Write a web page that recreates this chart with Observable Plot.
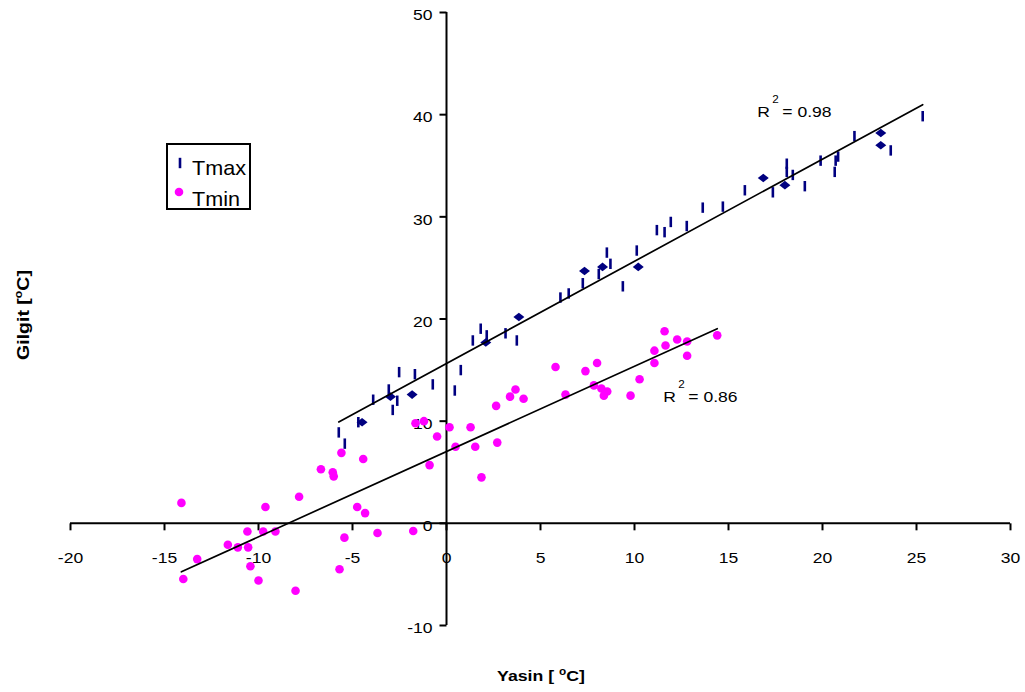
<!DOCTYPE html>
<html>
<head>
<meta charset="utf-8">
<script src="https://cdn.jsdelivr.net/npm/d3@7"></script>
<script src="https://cdn.jsdelivr.net/npm/@observablehq/plot@0.6"></script>
<style>
  html, body { margin: 0; padding: 0; background: #fff; }
  #wrap { position: relative; width: 1025px; height: 692px; font-family: "Liberation Sans", Arial, sans-serif; }
  #wrap svg.plot { position: absolute; left: 0; top: 0; }
  .atitle { position: absolute; font-weight: bold; font-size: 15px; white-space: nowrap; color: #000; }
  .atitle sup { font-size: 10px; }
  #legend { position: absolute; left: 166px; top: 143px; }
</style>
</head>
<body>
<div id="wrap"></div>
<script>
// ---- data ----
const xTicks = [-20, -15, -10, -5, 0, 5, 10, 15, 20, 25, 30];
const yTicks = [-10, 0, 10, 20, 30, 40, 50];

// Tmax points drawn as dash markers (Yasin x, Gilgit y)
const tmaxDashX = [-5.73,-5.41,-4.69,-3.9,-3.07,-2.86,-2.62,-2.52,-1.68,-0.73,0.44,0.76,1.4,1.82,2.14,3.14,3.74,6.06,6.5,7.25,8.1,8.53,8.72,9.38,10.12,11.19,11.6,11.93,12.78,13.63,14.7,15.87,17.36,18.1,18.1,18.42,19.06,19.9,20.65,20.7,20.83,21.7,23.63,25.33];
const tmaxDashY = [8.9,7.8,9.9,12.1,13.1,11.1,12.0,14.8,14.6,13.6,13.0,15.0,17.9,19.05,18.4,18.6,17.9,22.1,22.5,23.5,24.4,26.5,25.4,23.2,26.7,28.7,28.5,29.5,29.1,30.9,31.0,32.6,32.4,35.2,34.4,34.1,33.0,35.5,34.4,35.5,35.9,37.9,36.5,39.85];
// Tmax points that appear as diamonds
const tmaxDiaX = [-4.49,-2.98,-1.83,2.09,3.85,7.34,8.3,10.2,16.85,18.0,23.1,23.1];
const tmaxDiaY = [9.9,12.4,12.6,17.7,20.2,24.7,25.1,25.1,33.8,33.1,38.2,37.0];
// Tmin points
const tminX = [-14.1,-13.26,-14.0,-11.63,-11.1,-10.59,-10.55,-10.43,-10.0,-9.75,-9.63,-9.1,-7.84,-8.03,-6.68,-6.05,-6.0,-5.69,-5.43,-5.59,-4.75,-4.43,-4.33,-3.67,-1.77,-1.65,-1.2,-0.9,-0.5,0.16,0.48,1.28,1.53,1.86,2.64,2.7,3.38,3.67,4.1,5.8,6.33,7.39,7.84,8.01,8.24,8.37,8.55,9.79,10.27,11.06,11.06,11.6,11.65,12.27,12.8,12.8,14.4];
const tminY = [2.0,-3.5,-5.45,-2.1,-2.35,-0.8,-2.35,-4.2,-5.6,-0.8,1.6,-0.8,2.6,-6.6,5.3,5.0,4.6,-4.5,-1.4,6.9,1.6,6.3,1.0,-0.95,-0.75,9.8,10.0,5.7,8.5,9.4,7.5,9.4,7.5,4.5,11.5,7.9,12.4,13.1,12.2,15.3,12.6,14.9,13.5,15.7,13.2,12.5,12.9,12.5,14.1,16.9,15.7,18.8,17.4,18.0,17.8,16.4,18.4];

// Linear trendlines
const trendNames = ["Tmax", "Tmin"];
const trendSlope = [1.0, 0.835];
const trendIntercept = [15.65, 7.03];
const trendR2 = ["0.98", "0.86"];
const r2LabelX = [16.53, 11.53];
const r2LabelY = [39.75, 11.87];

// ---- build tables ----
const dash = tmaxDashX.map((x, i) => ({x, y: tmaxDashY[i]}));
const dia = tmaxDiaX.map((x, i) => ({x, y: tmaxDiaY[i]}));
const tmin = tminX.map((x, i) => ({x, y: tminY[i]}));
const tmaxExt = d3.extent([...tmaxDashX, ...tmaxDiaX]);
const tminExt = d3.extent(tminX);
const exts = [tmaxExt, tminExt];
const trendPts = [];
trendNames.forEach((n, i) => exts[i].forEach(x => trendPts.push({series: n, x, y: trendIntercept[i] + trendSlope[i] * x})));
const r2 = trendNames.map((n, i) => ({x: r2LabelX[i], y: r2LabelY[i], v: trendR2[i]}));

// ---- symbols ----
const barSym = {draw(ctx) { ctx.rect(-1.3, -5.2, 2.6, 10.4); }};
const diamondSym = {draw(ctx) { ctx.moveTo(-5.5, 0); ctx.lineTo(0, -4.3); ctx.lineTo(5.5, 0); ctx.lineTo(0, 4.3); ctx.closePath(); }};
const yTickSym = {draw(ctx) { ctx.rect(-7, -1, 7, 2); }};
const xTickSym = {draw(ctx) { ctx.rect(-1, 0, 2, 7); }};

const NAVY = "#000080", MAG = "#ff00ff";
const font = "Liberation Sans, Arial, sans-serif";

const chart = Plot.plot({
  width: 1025, height: 692,
  marginLeft: 70, marginRight: 15, marginTop: 12, marginBottom: 67,
  x: {domain: [-20, 30], axis: null},
  y: {domain: [-10, 50], axis: null},
  style: {fontFamily: font, background: "transparent", color: "#000", overflow: "visible"},
  marks: [
    // axes crossing at origin
    Plot.ruleY([0], {x1: xTicks[0], x2: xTicks[xTicks.length - 1], stroke: "#000", strokeWidth: 2}),
    Plot.ruleX([0], {y1: yTicks[0], y2: yTicks[yTicks.length - 1], stroke: "#000", strokeWidth: 2}),
    Plot.dot(yTicks, {x: 0, y: d => d, symbol: yTickSym, fill: "#000", stroke: "none"}),
    Plot.dot(xTicks, {x: d => d, y: 0, symbol: xTickSym, fill: "#000", stroke: "none"}),
    Plot.text(yTicks, {x: 0, y: d => d, text: d => String(d), textAnchor: "end", dx: -14, dy: 3, fontSize: 15, fill: "#000"}),
    Plot.text(xTicks, {x: d => d, y: 0, text: d => String(d), textAnchor: "middle", dy: 35, fontSize: 15, fill: "#000"}),
    // data
    Plot.dot(tmin, {x: "x", y: "y", r: 4.3, fill: MAG, stroke: "none"}),
    Plot.dot(dash, {x: "x", y: "y", symbol: barSym, fill: NAVY, stroke: "none"}),
    Plot.dot(dia, {x: "x", y: "y", symbol: diamondSym, fill: NAVY, stroke: "none"}),
    // trendlines
    Plot.line(trendPts, {x: "x", y: "y", z: "series", stroke: "#000", strokeWidth: 1.7}),
    // R² labels
    Plot.text(r2, {x: "x", y: "y", text: () => "R", textAnchor: "start", lineAnchor: "bottom", fontSize: 15, fill: "#000"}),
    Plot.text(r2, {x: "x", y: "y", text: () => "2", textAnchor: "start", lineAnchor: "bottom", dx: 15, dy: -14, fontSize: 10, fill: "#000"}),
    Plot.text(r2, {x: "x", y: "y", text: d => "= " + d.v, textAnchor: "start", lineAnchor: "bottom", dx: 25, fontSize: 15, fill: "#000"})
  ]
});
chart.classList.add("plot");

// the reference's text is stretched horizontally; widen each label about its anchor
const SX = 1.17;
chart.querySelectorAll("text").forEach(t => {
  const tr = t.getAttribute("transform");
  if (tr) {
    t.setAttribute("transform", tr + ` scale(${SX},1)`);
  } else {
    const x = +(t.getAttribute("x") || 0), y = +(t.getAttribute("y") || 0);
    t.setAttribute("x", 0); t.setAttribute("y", 0);
    t.setAttribute("transform", `translate(${x},${y}) scale(${SX},1)`);
  }
});

const wrap = document.getElementById("wrap");
wrap.appendChild(chart);

// axis titles
const xt = document.createElement("div");
xt.className = "atitle";
xt.innerHTML = "Yasin [ <sup>o</sup>C]";
xt.style.left = "541px"; xt.style.top = "675px";
xt.style.transform = "translate(-50%, -50%) scaleX(1.18)";
wrap.appendChild(xt);

const yt = document.createElement("div");
yt.className = "atitle";
yt.innerHTML = "Gilgit [<sup>o</sup>C]";
yt.style.fontSize = "16px";
yt.style.left = "23px"; yt.style.top = "315px";
yt.style.transform = "translate(-50%, -50%) rotate(-90deg) scaleX(1.22)";
wrap.appendChild(yt);

// legend
const ns = "http://www.w3.org/2000/svg";
const leg = document.createElementNS(ns, "svg");
leg.setAttribute("id", "legend");
leg.setAttribute("width", 86); leg.setAttribute("height", 68);
leg.innerHTML = `
  <rect x="1" y="1" width="83" height="65" fill="#fff" stroke="#000" stroke-width="2"/>
  <rect x="12.7" y="14.8" width="2.6" height="10.4" fill="${NAVY}"/>
  <text x="26" y="32" font-size="20" font-family="${font}" transform="translate(26,0) scale(1.08,1) translate(-26,0)">${trendNames[0]}</text>
  <circle cx="13" cy="49" r="4.3" fill="${MAG}"/>
  <text x="26" y="63" font-size="20" font-family="${font}" transform="translate(26,0) scale(1.08,1) translate(-26,0)">${trendNames[1]}</text>`;
wrap.appendChild(leg);
</script>
</body>
</html>
